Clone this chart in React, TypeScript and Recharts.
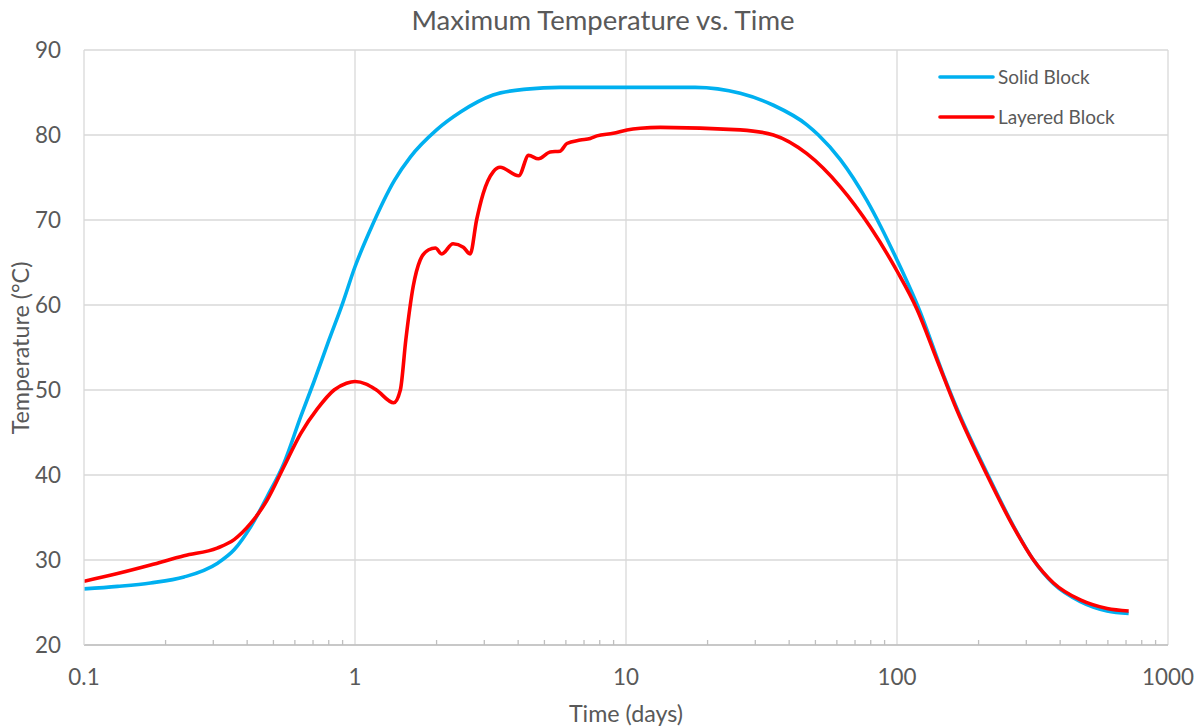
import React from 'react';
import { LineChart, Line, XAxis, YAxis, CartesianGrid, ReferenceLine } from 'recharts';

const solidTimes = [0.1, 0.133, 0.176, 0.234, 0.31, 0.358, 0.412, 0.475, 0.547, 0.631, 0.706, 0.8, 0.9, 1.0, 1.137, 1.4, 1.6, 2.0, 2.45, 3.23, 4.3, 5.71, 10, 18, 26.4, 35, 46.5, 51.3, 61.8, 77.4, 86.9, 100, 121, 149, 166.5, 215, 269, 319, 378, 475, 596, 716];
const solidTemps = [26.6, 26.9, 27.3, 28.0, 29.6, 31.2, 33.9, 37.5, 41.4, 46.9, 51.0, 55.8, 60.2, 64.5, 68.8, 74.7, 77.4, 80.6, 82.7, 84.7, 85.4, 85.6, 85.6, 85.6, 84.9, 83.5, 81.2, 80.0, 77.1, 72.3, 69.3, 65.3, 59.4, 51.6, 47.8, 40.2, 34.0, 30.0, 27.2, 25.1, 24.0, 23.7];

const layeredTimes = [0.1, 0.133, 0.176, 0.234, 0.31, 0.358, 0.412, 0.475, 0.547, 0.631, 0.727, 0.837, 0.93, 1.0, 1.1, 1.2, 1.39, 1.47, 1.54, 1.64, 1.74, 1.87, 1.98, 2.09, 2.3, 2.51, 2.66, 2.81, 2.97, 3.24, 3.43, 4.02, 4.37, 4.75, 5.25, 5.71, 6.05, 6.78, 7.38, 7.81, 8.98, 10.08, 11.3, 13.4, 26.4, 35, 46.5, 61.8, 79.6, 100, 118.5, 140.6, 166.5, 214.9, 269, 319, 378, 475, 596, 716];
const layeredTemps = [27.5, 28.4, 29.4, 30.5, 31.4, 32.4, 34.3, 37.1, 41.0, 44.9, 47.8, 50.0, 50.8, 51.0, 50.7, 50.0, 48.5, 50.0, 55.9, 62.2, 65.3, 66.5, 66.7, 66.0, 67.2, 66.8, 66.0, 70.0, 73.1, 75.7, 76.2, 75.2, 77.6, 77.2, 78.0, 78.1, 79.0, 79.4, 79.6, 79.9, 80.2, 80.6, 80.8, 80.9, 80.6, 80.0, 77.8, 73.9, 69.2, 64.0, 59.5, 53.5, 47.6, 40.0, 33.9, 30.0, 27.3, 25.3, 24.3, 24.0];

const majorTicks = [0.1, 1, 10, 100, 1000];
const minorTicks = [0.2, 0.3, 0.4, 0.5, 0.6, 0.7, 0.8, 0.9, 2, 3, 4, 5, 6, 7, 8, 9, 20, 30, 40, 50, 60, 70, 80, 90, 200, 300, 400, 500, 600, 700, 800, 900];
const yTicks = [20, 30, 40, 50, 60, 70, 80, 90];

const seriesNames = ['Solid Block', 'Layered Block'];
const seriesColors = ['#00b0f0', '#ff0000'];

const solidData = solidTimes.map((t, i) => ({ t, v: solidTemps[i] }));
const layeredData = layeredTimes.map((t, i) => ({ t, v: layeredTemps[i] }));
const allXTicks = [...majorTicks, ...minorTicks].sort((a, b) => a - b);

const FONT = 'Lato, "Open Sans", sans-serif';
const TEXT = '#595959';
const GRID = '#d9d9d9';

const XTick = (props: any) => {
  const { x, y, payload } = props;
  const isMajor = majorTicks.includes(payload.value);
  return (
    <g>
      {!isMajor && <line x1={x} x2={x} y1={y - 5} y2={y} stroke="#bfbfbf" strokeWidth={1.3} />}
      {isMajor && (
        <text x={x} y={y + 40} textAnchor="middle" fill={TEXT} fontSize={22.4} fontFamily={FONT}>
          {String(payload.value)}
        </text>
      )}
    </g>
  );
};

export default function App() {
  return (
    <div style={{ position: 'absolute', left: 0, top: 0, width: 1197, height: 726, background: '#fff' }}>
      <LineChart width={1197} height={726} margin={{ top: 50, right: 29, left: 0, bottom: 0 }}>
        <CartesianGrid vertical={false} stroke={GRID} strokeWidth={1.3} />
        <XAxis
          dataKey="t"
          type="number"
          scale="log"
          domain={[0.1, 1000]}
          ticks={allXTicks}
          interval={0}
          allowDataOverflow
          height={81}
          tickSize={0}
          tickMargin={0}
          tickLine={false}
          axisLine={{ stroke: '#bfbfbf', strokeWidth: 1.3 }}
          tick={<XTick />}
        />
        <YAxis
          type="number"
          domain={[20, 90]}
          ticks={yTicks}
          interval={0}
          width={84}
          tickSize={0}
          tickMargin={23}
          tickLine={false}
          axisLine={{ stroke: GRID, strokeWidth: 1.3 }}
          tick={{ fill: TEXT, fontSize: 22.4, fontFamily: FONT }}
        />
        <ReferenceLine x={1} stroke={GRID} strokeWidth={1.3} />
        <ReferenceLine x={10} stroke={GRID} strokeWidth={1.3} />
        <ReferenceLine x={100} stroke={GRID} strokeWidth={1.3} />
        <ReferenceLine x={1000} stroke={GRID} strokeWidth={1.3} />
        <Line data={solidData} dataKey="v" name={seriesNames[0]} type="monotone" stroke={seriesColors[0]} strokeWidth={3.6} dot={false} isAnimationActive={false} />
        <Line data={layeredData} dataKey="v" name={seriesNames[1]} type="monotone" stroke={seriesColors[1]} strokeWidth={3.6} dot={false} isAnimationActive={false} />
        <g>
          {seriesNames.map((n, i) => (
            <g key={n}>
              <line x1={940} x2={993} y1={77 + i * 40} y2={77 + i * 40} stroke={seriesColors[i]} strokeWidth={3.6} strokeLinecap="round" />
              <text x={998} y={77 + i * 40 + 6.5} fill={TEXT} fontSize={19} fontFamily={FONT}>{n}</text>
            </g>
          ))}
        </g>
        <text x={603} y={29.5} textAnchor="middle" fill={TEXT} fontSize={27.5} fontFamily={FONT}>Maximum Temperature vs. Time</text>
        <text x={626} y={722} textAnchor="middle" fill={TEXT} fontSize={23.3} fontFamily={FONT}>Time (days)</text>
        <text x={20} y={348} textAnchor="middle" dominantBaseline="central" fill={TEXT} fontSize={23.3} fontFamily={FONT} transform="rotate(-90 20 348)">Temperature (°C)</text>
      </LineChart>
    </div>
  );
}
